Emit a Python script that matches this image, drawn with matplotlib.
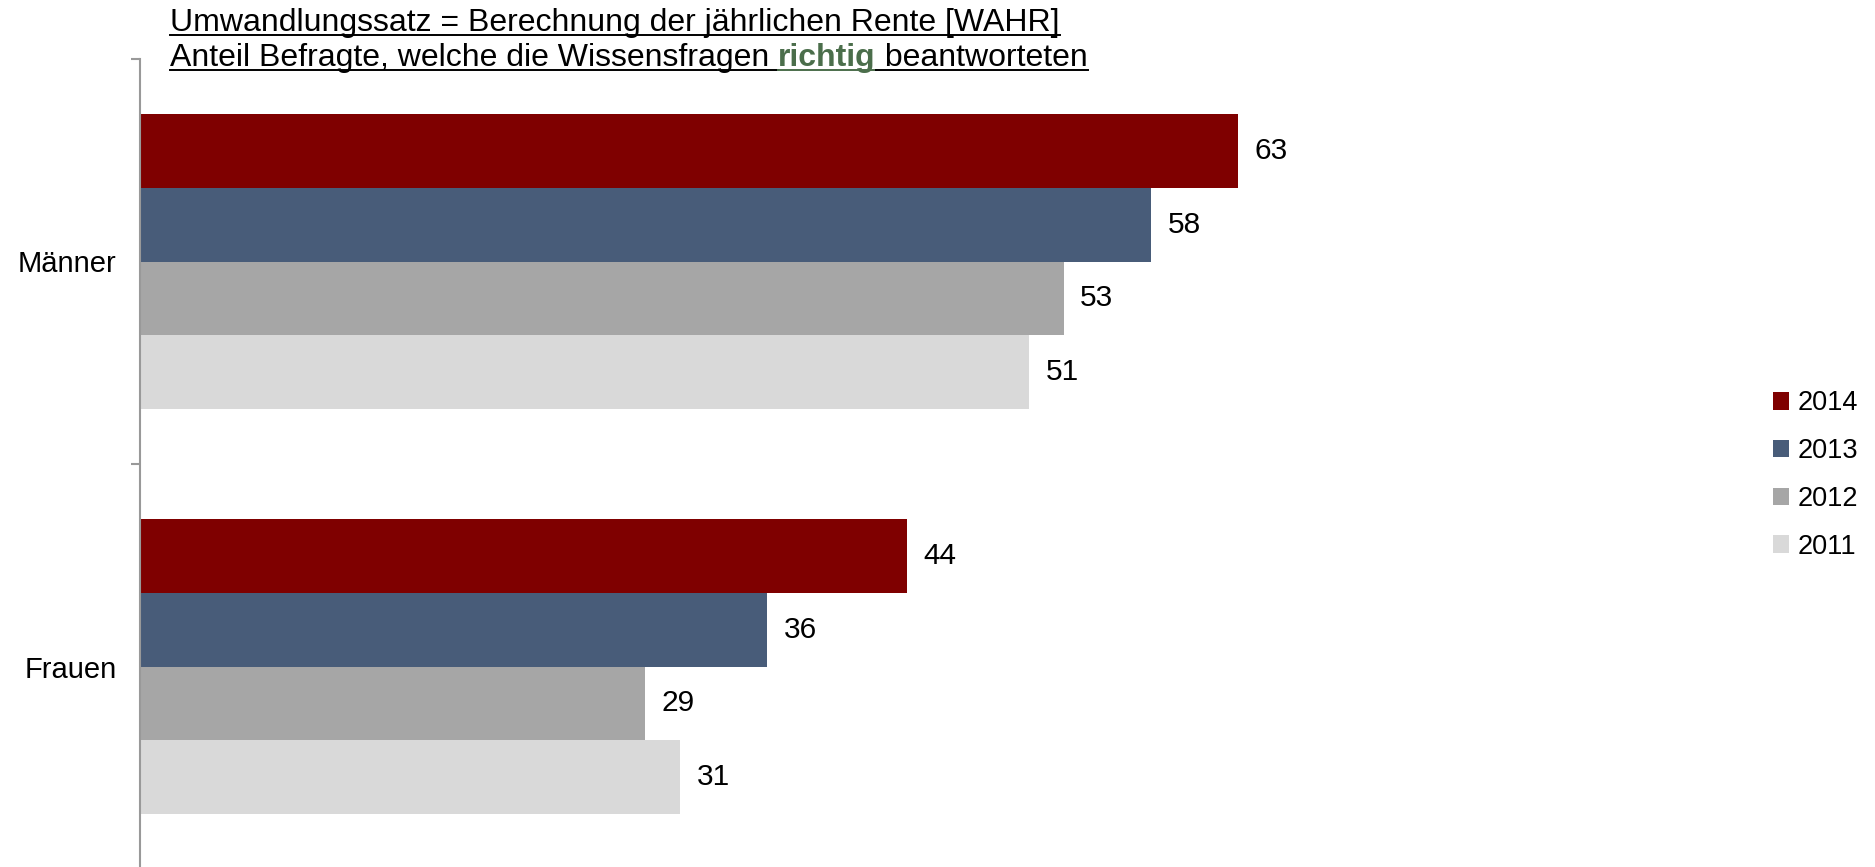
import matplotlib
matplotlib.use("Agg")
import matplotlib.pyplot as plt
from matplotlib.patches import Patch
from matplotlib.lines import Line2D
import numpy as np

plt.rcParams["font.family"] = ["Liberation Sans", "DejaVu Sans"]

groups = ["Männer", "Frauen"]
years = ["2014", "2013", "2012", "2011"]
values = {
    "2014": [63, 44],
    "2013": [58, 36],
    "2012": [53, 29],
    "2011": [51, 31],
}
colors = {
    "2014": "#7f0000",
    "2013": "#485c79",
    "2012": "#a6a6a6",
    "2011": "#d9d9d9",
}

W, H = 1875, 867
fig = plt.figure(figsize=(W / 100, H / 100), dpi=100)
ax = fig.add_axes([140 / W, (H - 869) / H, 1394 / W, 810 / H])

bar_h = 0.1815
y = np.arange(len(groups))
for i, yr in enumerate(years):
    pos = y + (i - 1.5) * bar_h
    bars = ax.barh(pos, values[yr], height=bar_h, color=colors[yr], label=yr,
                   edgecolor="none")
    for b, v in zip(bars, values[yr]):
        ax.annotate(str(v), (b.get_width(), b.get_y() + b.get_height() / 2),
                    xytext=(12, 0), textcoords="offset points",
                    ha="left", va="center", fontsize=21.5)

ax.set_xlim(0, 80)
ax.set_ylim(1.5, -0.5)

for s in ["top", "right", "bottom"]:
    ax.spines[s].set_visible(False)
ax.spines["left"].set_color("#999999")
ax.spines["left"].set_linewidth(1.5)
ax.set_xticks([])

# category boundaries get tick marks, labels sit at the centers
ax.set_yticks([-0.5, 0.5, 1.5])
ax.set_yticklabels([])
ax.tick_params(axis="y", which="major", length=6.5, width=1.5, color="#999999")
ax.set_yticks(y, minor=True)
ax.set_yticklabels(groups, minor=True, fontsize=21)
ax.tick_params(axis="y", which="minor", length=0, pad=17)

handles = [Patch(facecolor=colors[yr], edgecolor="none", label=yr) for yr in years]
fig.legend(handles=handles, loc="center left", bbox_to_anchor=(1762 / W, 1 - 475 / H),
           frameon=False, fontsize=19.5, handlelength=0.6, handleheight=0.6,
           handletextpad=0.3, labelspacing=0.8, borderaxespad=0)

# underlined two-line heading, "richtig" in bold green
fig.canvas.draw()
renderer = fig.canvas.get_renderer()


def underlined(parts, x0, baseline):
    x = x0
    for txt, weight, col in parts:
        t = fig.text(x / W, 1 - baseline / H, txt, fontsize=23, fontweight=weight,
                     color=col, ha="left", va="baseline")
        bb = t.get_window_extent(renderer)
        fig.add_artist(Line2D([bb.x0 / W, bb.x1 / W],
                              [1 - (baseline + 4) / H] * 2,
                              color=col, linewidth=1.4, transform=fig.transFigure))
        x = bb.x1


underlined([("Umwandlungssatz = Berechnung der jährlichen Rente [WAHR]", "normal", "black")],
           170, 31)
underlined([("Anteil Befragte, welche die Wissensfragen ", "normal", "black"),
            ("richtig", "bold", "#4b6e4b"),
            (" beantworteten", "normal", "black")],
           170, 66)

fig.savefig("out.png", dpi=100)
